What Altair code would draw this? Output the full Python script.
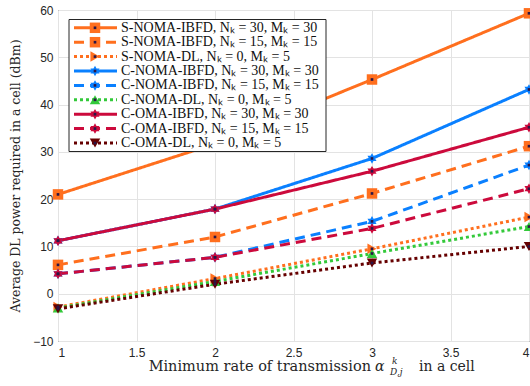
import altair as alt
import pandas as pd

# ---- data ----
x_vals = [1, 2, 3, 4]
series_names = [
    "S-NOMA-IBFD 30", "S-NOMA-IBFD 15", "S-NOMA-DL",
    "C-NOMA-IBFD 30", "C-NOMA-IBFD 15", "C-NOMA-DL",
    "C-OMA-IBFD 30", "C-OMA-IBFD 15", "C-OMA-DL",
]
legend_labels = [
    "S-NOMA-IBFD, Nₖ = 30, Mₖ = 30",
    "S-NOMA-IBFD, Nₖ = 15, Mₖ = 15",
    "S-NOMA-DL, Nₖ = 0, Mₖ = 5",
    "C-NOMA-IBFD, Nₖ = 30, Mₖ = 30",
    "C-NOMA-IBFD, Nₖ = 15, Mₖ = 15",
    "C-NOMA-DL, Nₖ = 0, Mₖ = 5",
    "C-OMA-IBFD, Nₖ = 30, Mₖ = 30",
    "C-OMA-IBFD, Nₖ = 15, Mₖ = 15",
    "C-OMA-DL, Nₖ = 0, Mₖ = 5",
]
s_noma_ibfd_30 = [21.0, 31.7, 45.3, 59.3]
s_noma_ibfd_15 = [6.1, 12.0, 21.2, 31.2]
s_noma_dl = [-2.8, 3.2, 9.5, 16.2]
c_noma_ibfd_30 = [11.2, 17.9, 28.6, 43.2]
c_noma_ibfd_15 = [4.2, 7.7, 15.3, 27.2]
c_noma_dl = [-3.0, 2.6, 8.5, 14.2]
c_oma_ibfd_30 = [11.2, 17.9, 25.9, 35.2]
c_oma_ibfd_15 = [4.2, 7.7, 13.8, 22.2]
c_oma_dl = [-3.2, 2.0, 6.5, 10.0]
all_series = [s_noma_ibfd_30, s_noma_ibfd_15, s_noma_dl,
              c_noma_ibfd_30, c_noma_ibfd_15, c_noma_dl,
              c_oma_ibfd_30, c_oma_ibfd_15, c_oma_dl]

x_ticks = [1, 1.5, 2, 2.5, 3, 3.5, 4]
y_ticks = [-10, 0, 10, 20, 30, 40, 50, 60]

# ---- styles ----
orange, blue, green, crimson, brown = "#FF6F1E", "#0A80FF", "#33C93A", "#CC0A3C", "#660000"
colors = [orange, orange, orange, blue, blue, green, crimson, crimson, brown]
solid, dashed, dotted = [1, 0], [10, 6], [3, 3]
dashes = [solid, dashed, dotted, solid, dashed, dotted, solid, dashed, dotted]
hexagram = ("M0,-1L0.289,-0.5L0.866,-0.5L0.577,0L0.866,0.5L0.289,0.5"
            "L0,1L-0.289,0.5L-0.866,0.5L-0.577,0L-0.866,-0.5L-0.289,-0.5Z")
shapes = ["square", "square", "triangle-right", hexagram, hexagram,
          "triangle-up", hexagram, hexagram, "triangle-down"]
sizes = [110, 110, 130, 210, 210, 130, 210, 210, 130]

rows = []
for name, vals in zip(series_names, all_series):
    for xv, yv in zip(x_vals, vals):
        rows.append({"series": name, "rate": xv, "power": yv})
df = pd.DataFrame(rows)
leg_df = pd.DataFrame({"series": series_names, "label": legend_labels,
                       "row": list(range(len(series_names)))})

color_scale = alt.Scale(domain=series_names, range=colors)
dash_scale = alt.Scale(domain=series_names, range=dashes)
shape_scale = alt.Scale(domain=series_names, range=shapes)
size_scale = alt.Scale(domain=series_names, range=sizes)

W, H = 471, 331
x_sc = alt.Scale(domain=[1, 4], nice=False)
y_sc = alt.Scale(domain=[-10, 60], nice=False)

x_enc = alt.X("rate:Q", scale=x_sc,
              axis=alt.Axis(values=x_ticks, format="~g", title=None, grid=True,
                            gridColor="#e3e3e3", ticks=False, domain=False,
                            labelFont="Liberation Sans", labelFontSize=12,
                            labelColor="#262626", labelPadding=6))
y_enc = alt.Y("power:Q", scale=y_sc,
              axis=alt.Axis(values=y_ticks, title="Average DL power required in a cell (dBm)",
                            grid=True, gridColor="#e3e3e3", ticks=False, domain=False,
                            labelFont="Liberation Sans", labelFontSize=12,
                            labelColor="#262626", labelPadding=5,
                            titleFont="DejaVu Serif", titleFontSize=12.5,
                            titleFontWeight="normal", titleColor="#262626",
                            titlePadding=10))
y_plain = alt.Y("power:Q", scale=y_sc, axis=None)

base = alt.Chart(df)
lines = base.mark_line(strokeWidth=3, strokeCap="butt", clip=False).encode(
    x=x_enc, y=y_enc,
    color=alt.Color("series:N", scale=color_scale, legend=None),
    strokeDash=alt.StrokeDash("series:N", scale=dash_scale, legend=None),
    detail="series:N",
)
points = base.mark_point(filled=True, opacity=1).encode(
    x="rate:Q", y=y_plain,
    color=alt.Color("series:N", scale=color_scale, legend=None),
    shape=alt.Shape("series:N", scale=shape_scale, legend=None),
    size=alt.Size("series:N", scale=size_scale, legend=None),
)
dots = base.mark_point(filled=True, size=7, shape="square", color="#2a1646", opacity=1).encode(
    x="rate:Q", y=y_plain,
)

# legend rows: pixel offset of each row inside the plot area
leg_base = alt.Chart(leg_df).transform_calculate(ypix="17.8 + datum.row * 14.4")
leg_y = alt.Y("ypix:Q", scale=None, axis=None)
leg_box = alt.Chart(pd.DataFrame({"a": [0]})).mark_rect(
    fill="white", stroke="#262626", strokeWidth=1).encode(
    x=alt.value(11), x2=alt.value(268), y=alt.value(9.5), y2=alt.value(141.5))
leg_rules = leg_base.mark_rule(strokeWidth=3, strokeCap="butt").encode(
    x=alt.value(16), x2=alt.value(59), y=leg_y,
    color=alt.Color("series:N", scale=color_scale, legend=None),
    strokeDash=alt.StrokeDash("series:N", scale=dash_scale, legend=None),
)
leg_points = leg_base.mark_point(filled=True, opacity=1).encode(
    x=alt.value(37), y=leg_y,
    color=alt.Color("series:N", scale=color_scale, legend=None),
    shape=alt.Shape("series:N", scale=shape_scale, legend=None),
    size=alt.Size("series:N", scale=size_scale, legend=None),
)
leg_dots = leg_base.mark_point(filled=True, size=7, shape="square", color="#2a1646", opacity=1).encode(
    x=alt.value(37), y=leg_y)
leg_text = leg_base.mark_text(align="left", baseline="middle", font="Liberation Serif",
                              fontSize=14, color="#111111").encode(
    x=alt.value(63), y=leg_y, text="label:N")

title_df = pd.DataFrame({"a": [0]})
tfont = dict(font="DejaVu Serif", color="#262626")
xt_main = alt.Chart(title_df).mark_text(align="right", baseline="middle", fontSize=14.5,
                                         text="Minimum rate of transmission", **tfont).encode(
    x=alt.value(313), y=alt.value(357))
xt_alpha = alt.Chart(title_df).mark_text(align="left", baseline="middle", fontSize=14,
                                          fontStyle="italic", text="α", **tfont).encode(
    x=alt.value(317), y=alt.value(357))
xt_sup = alt.Chart(title_df).mark_text(align="left", baseline="middle", fontSize=9,
                                        fontStyle="italic", text="k", **tfont).encode(
    x=alt.value(334), y=alt.value(351))
xt_sub = alt.Chart(title_df).mark_text(align="left", baseline="middle", fontSize=9,
                                        fontStyle="italic", text="D,j", **tfont).encode(
    x=alt.value(332), y=alt.value(362))
xt_end = alt.Chart(title_df).mark_text(align="left", baseline="middle", fontSize=14,
                                        text="in a cell", **tfont).encode(
    x=alt.value(361), y=alt.value(357))

chart = alt.layer(
    lines, points, dots, leg_box, leg_rules, leg_points, leg_dots, leg_text,
    xt_main, xt_alpha, xt_sup, xt_sub, xt_end,
).resolve_scale(y="independent").properties(
    width=W, height=H,
    autosize=alt.AutoSizeParams(type="none"),
    padding={"left": 58, "top": 10, "right": 1, "bottom": 45},
    background="white",
).configure_view(stroke="#262626", strokeWidth=1)

chart.save("out.html", embed_options={"renderer": "svg", "actions": False})
